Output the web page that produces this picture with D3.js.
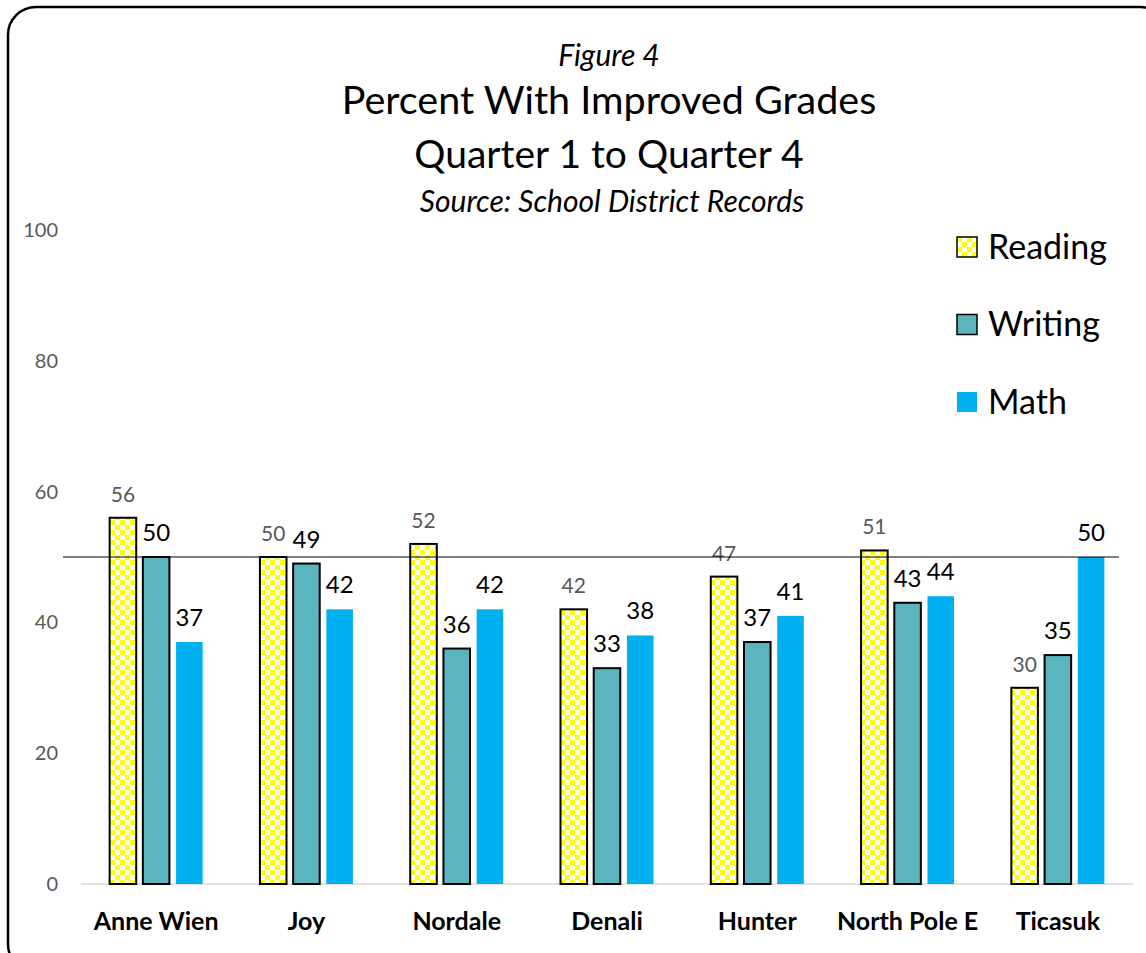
<!DOCTYPE html>
<html>
<head>
<meta charset="utf-8">
<script src="https://cdn.jsdelivr.net/npm/d3@7"></script>
<style>
  body { margin: 0; background: #fff; }
  text { font-family: Lato, "Open Sans", sans-serif; }
</style>
</head>
<body>
<script>
// chart data
var schools = ["Anne Wien", "Joy", "Nordale", "Denali", "Hunter", "North Pole E", "Ticasuk"];
var subjects = ["Reading", "Writing", "Math"];
var reading = [56, 50, 52, 42, 47, 51, 30];
var writing = [50, 49, 36, 33, 37, 43, 35];
var math = [37, 42, 42, 38, 41, 44, 50];
var yTicks = [0, 20, 40, 60, 80, 100];
var refValue = 50;

var W = 1146, H = 953;

var svg = d3.select("body").append("svg")
    .attr("width", W)
    .attr("height", H);

// pattern for the checkered Reading bars
var defs = svg.append("defs");
var pat = defs.append("pattern")
    .attr("id", "checker")
    .attr("patternUnits", "userSpaceOnUse")
    .attr("width", 10)
    .attr("height", 10);
pat.append("rect").attr("width", 10).attr("height", 10).attr("fill", "#fff");
pat.append("rect").attr("width", 5).attr("height", 5).attr("fill", "#ffff00");
pat.append("rect").attr("x", 5).attr("y", 5).attr("width", 5).attr("height", 5).attr("fill", "#ffff00");

// outer rounded frame
svg.append("rect")
    .attr("x", 8).attr("y", 7)
    .attr("width", 1160).attr("height", 965)
    .attr("rx", 28).attr("ry", 28)
    .attr("fill", "none")
    .attr("stroke", "#000")
    .attr("stroke-width", 2.5);

var x0 = d3.scaleBand()
    .domain(schools)
    .range([81, 1133]);

var x1 = d3.scaleBand()
    .domain(subjects)
    .range([0, 93])
    .paddingInner(0.2);

var y = d3.scaleLinear()
    .domain([0, 100])
    .range([884, 230]);

var colors = { Reading: "url(#checker)", Writing: "#5ab5bf", Math: "#00b0f0" };
var strokes = { Reading: "#000", Writing: "#000", Math: "none" };
var series = { Reading: reading, Writing: writing, Math: math };

// y tick labels
svg.append("g").selectAll("text")
    .data(yTicks)
    .enter().append("text")
    .attr("x", 58)
    .attr("y", function(d) { return y(d); })
    .attr("dy", "0.35em")
    .attr("text-anchor", "end")
    .style("font-size", "20px")
    .style("fill", "#595959")
    .text(function(d) { return d; });

// baseline
svg.append("line")
    .attr("x1", x0.range()[0]).attr("x2", x0.range()[1])
    .attr("y1", y(0)).attr("y2", y(0))
    .attr("stroke", "#d9d9d9")
    .attr("stroke-width", 1.5);

// bars
subjects.forEach(function(s) {
    var g = svg.append("g");
    g.selectAll("rect")
        .data(series[s])
        .enter().append("rect")
        .attr("x", function(d, i) { return x0(schools[i]) + (x0.bandwidth() - 93) / 2 + x1(s); })
        .attr("y", function(d) { return y(d); })
        .attr("width", x1.bandwidth())
        .attr("height", function(d) { return y(0) - y(d); })
        .attr("fill", colors[s])
        .attr("stroke", strokes[s])
        .attr("stroke-width", 2);

    g.selectAll("text")
        .data(series[s])
        .enter().append("text")
        .attr("x", function(d, i) { return x0(schools[i]) + (x0.bandwidth() - 93) / 2 + x1(s) + x1.bandwidth() / 2; })
        .attr("y", function(d) { return y(d) - 16; })
        .attr("text-anchor", "middle")
        .style("font-size", s == "Reading" ? "21px" : "24px")
        .style("fill", s == "Reading" ? "#595959" : "#000")
        .text(function(d) { return d; });
});

// reference line at 50
svg.append("line")
    .attr("x1", 63).attr("x2", 1119)
    .attr("y1", y(refValue)).attr("y2", y(refValue))
    .attr("stroke", "#000")
    .attr("stroke-width", 1.2);

// category labels
svg.append("g").selectAll("text")
    .data(schools)
    .enter().append("text")
    .attr("x", function(d) { return x0(d) + x0.bandwidth() / 2; })
    .attr("y", 930)
    .attr("text-anchor", "middle")
    .style("font-size", "25px")
    .style("font-weight", "bold")
    .text(function(d) { return d; });

// titles
svg.append("text")
    .attr("x", 609).attr("y", 66)
    .attr("text-anchor", "middle")
    .style("font-size", "30px")
    .style("font-style", "italic")
    .text("Figure 4");

svg.append("text")
    .attr("x", 609).attr("y", 114)
    .attr("text-anchor", "middle")
    .style("font-size", "39.5px")
    .text("Percent With Improved Grades");

svg.append("text")
    .attr("x", 609).attr("y", 168)
    .attr("text-anchor", "middle")
    .style("font-size", "39px")
    .text("Quarter 1 to Quarter 4");

svg.append("text")
    .attr("x", 612).attr("y", 212)
    .attr("text-anchor", "middle")
    .style("font-size", "30px")
    .style("font-style", "italic")
    .text("Source: School District Records");

// legend
var legend = svg.selectAll(".legend")
    .data(subjects)
    .enter().append("g")
    .attr("class", "legend")
    .attr("transform", function(d, i) { return "translate(957," + (237 + i * 77.5) + ")"; });

legend.append("rect")
    .attr("width", 20)
    .attr("height", 20)
    .attr("fill", function(d) { return colors[d]; })
    .attr("stroke", function(d) { return strokes[d]; })
    .attr("stroke-width", 1.5);

legend.append("text")
    .attr("x", 31)
    .attr("y", 10)
    .attr("dy", "0.35em")
    .style("font-size", "34px")
    .text(function(d) { return d; });
</script>
</body>
</html>
